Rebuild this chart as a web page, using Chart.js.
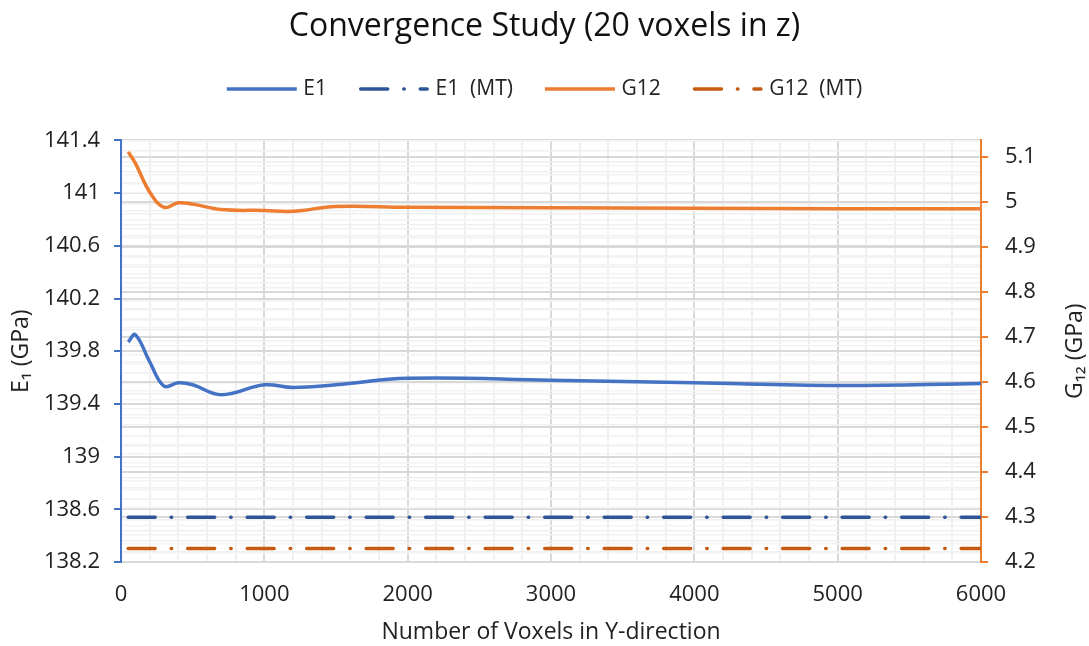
<!DOCTYPE html>
<html>
<head>
<meta charset="utf-8">
<title>Convergence Study (20 voxels in z)</title>
<script src="https://cdn.jsdelivr.net/npm/chart.js@4.4.0/dist/chart.umd.min.js"></script>
<style>
  html, body { margin: 0; padding: 0; background: #fff; }
</style>
</head>
<body>
<canvas id="chart" width="1089" height="646"></canvas>
<script>
// values
const voxels = [50, 100, 200, 300, 400, 500, 700, 1000, 1200, 1500, 2000, 3000, 4000, 5000, 6000];
const e1 = [139.87, 139.925, 139.72, 139.535, 139.56, 139.545, 139.47, 139.545, 139.525, 139.545, 139.595, 139.58, 139.56, 139.54, 139.555];
const g12 = [5.111, 5.086, 5.022, 4.988, 4.998, 4.995, 4.983, 4.981, 4.979, 4.990, 4.988, 4.987, 4.986, 4.985, 4.985];

const mtVoxels = [50, 6000];
const e1MT = [138.54, 138.54];
const g12MT = [4.23, 4.23];

// tick labels
const xTicks = [0, 1000, 2000, 3000, 4000, 5000, 6000];
const leftTicks = [138.2, 138.6, 139, 139.4, 139.8, 140.2, 140.6, 141, 141.4];
const rightTicks = [4.2, 4.3, 4.4, 4.5, 4.6, 4.7, 4.8, 4.9, 5, 5.1];

const FONT = "'Open Sans', 'Noto Sans', sans-serif";
const BLUE = '#4472C4';
const ORANGE = '#ED7D31';
const MT_DASH = [27, 16, 0.5, 16];
const SAMPLE_W = 70;

function isMajor(list, v) {
  return list.some(t => Math.abs(t - v) < 1e-6);
}

function toPoints(xs, ys) {
  return xs.map((x, i) => ({ x: x, y: ys[i] }));
}

// extra room between legend and plot area
const legendGap = {
  id: 'legendGap',
  beforeInit(chart) {
    const fit = chart.legend.fit;
    chart.legend.fit = function () {
      fit.call(chart.legend);
      this.height += 31;
    };
  }
};

// legend line samples (the built-in box can't show the dash-dot pattern)
const legendSamples = {
  id: 'legendSamples',
  afterDraw(chart) {
    const ctx = chart.ctx;
    const boxes = chart.legend.legendHitBoxes || [];
    boxes.forEach((b, i) => {
      const ds = chart.data.datasets[i];
      const y = b.top + b.height / 2;
      const cap = ds.borderDash ? 'round' : 'butt';
      const inset = cap === 'round' ? ds.borderWidth / 2 : 0;
      ctx.save();
      ctx.strokeStyle = ds.borderColor;
      ctx.lineWidth = ds.borderWidth;
      ctx.lineCap = cap;
      ctx.setLineDash(ds.borderDash || []);
      ctx.beginPath();
      ctx.moveTo(b.left + inset, y);
      ctx.lineTo(b.left + SAMPLE_W - inset, y);
      ctx.stroke();
      ctx.restore();
    });
  }
};

// G12 title on the right reads bottom-to-top like the left one
const rightTitle = {
  id: 'rightTitle',
  afterDraw(chart) {
    const s = chart.scales.y2;
    const ctx = chart.ctx;
    ctx.save();
    ctx.translate(s.right - 14, (s.top + s.bottom) / 2);
    ctx.rotate(-Math.PI / 2);
    ctx.font = "23px " + FONT;
    ctx.fillStyle = '#222';
    ctx.textAlign = 'center';
    ctx.textBaseline = 'middle';
    ctx.fillText('G\u2081\u2082 (GPa)', 0, 0);
    ctx.restore();
  }
};

new Chart(document.getElementById('chart'), {
  type: 'line',
  data: {
    datasets: [
      {
        label: 'E1',
        data: toPoints(voxels, e1),
        yAxisID: 'y',
        borderColor: BLUE,
        backgroundColor: BLUE,
        borderWidth: 3.5,
        tension: 0.4,
        pointRadius: 0
      },
      {
        label: 'E1  (MT)',
        data: toPoints(mtVoxels, e1MT),
        yAxisID: 'y',
        borderColor: '#2F5597',
        backgroundColor: '#2F5597',
        borderWidth: 3.5,
        borderDash: MT_DASH,
        borderCapStyle: 'round',
        pointRadius: 0
      },
      {
        label: 'G12',
        data: toPoints(voxels, g12),
        yAxisID: 'y2',
        borderColor: ORANGE,
        backgroundColor: ORANGE,
        borderWidth: 3.5,
        tension: 0.4,
        pointRadius: 0
      },
      {
        label: 'G12  (MT)',
        data: toPoints(mtVoxels, g12MT),
        yAxisID: 'y2',
        borderColor: '#C55A11',
        backgroundColor: '#C55A11',
        borderWidth: 3.5,
        borderDash: MT_DASH,
        borderCapStyle: 'round',
        pointRadius: 0
      }
    ]
  },
  options: {
    responsive: false,
    animation: false,
    events: [],
    plugins: {
      title: {
        display: true,
        text: 'Convergence Study (20 voxels in z)',
        color: '#111',
        font: { family: FONT, size: 32, weight: 'normal' },
        padding: { top: 8, bottom: 0 }
      },
      legend: {
        position: 'top',
        labels: {
          boxWidth: 66,
          boxHeight: 0,
          padding: 32,
          color: '#222',
          font: { family: FONT, size: 21 },
          generateLabels: chart => Chart.defaults.plugins.legend.labels.generateLabels(chart).map(item => Object.assign(item, {
            fillStyle: 'rgba(0,0,0,0)',
            strokeStyle: 'rgba(0,0,0,0)',
            lineWidth: 0
          }))
        }
      },
      tooltip: { enabled: false }
    },
    scales: {
      x: {
        type: 'linear',
        min: 0,
        max: 6000,
        afterFit: s => { s.height = 84; },
        ticks: {
          stepSize: 200,
          autoSkip: false,
          maxRotation: 0,
          padding: 20,
          color: '#222',
          font: { family: FONT, size: 22 },
          callback: v => isMajor(xTicks, v) ? String(v) : ''
        },
        grid: {
          drawTicks: false,
          color: c => isMajor(xTicks, c.tick.value) ? '#d9d9d9' : '#f0f0f0',
          lineWidth: 2
        },
        border: { color: '#d9d9d9', width: 2 },
        title: {
          display: true,
          text: 'Number of Voxels in Y-direction',
          color: '#222',
          font: { family: FONT, size: 23 },
          padding: { top: 0, bottom: 0 }
        }
      },
      y: {
        type: 'linear',
        position: 'left',
        min: 138.2,
        max: 141.4,
        afterFit: s => { s.width = 121; },
        ticks: {
          stepSize: 0.08,
          autoSkip: false,
          padding: 14,
          color: '#222',
          font: { family: FONT, size: 22 },
          callback: v => isMajor(leftTicks, v) ? String(parseFloat(v.toFixed(2))) : ''
        },
        grid: {
          tickLength: 7,
          color: c => isMajor(leftTicks, c.tick.value) ? '#d9d9d9' : '#f0f0f0',
          tickColor: c => isMajor(leftTicks, c.tick.value) ? BLUE : 'rgba(0,0,0,0)',
          lineWidth: c => isMajor(leftTicks, c.tick.value) ? 2 : 1.5,
          tickWidth: 2
        },
        border: { color: BLUE, width: 2 },
        title: {
          display: true,
          text: 'E\u2081 (GPa)',
          color: '#222',
          font: { family: FONT, size: 23 },
          padding: { top: 8, bottom: 0 }
        }
      },
      y2: {
        type: 'linear',
        position: 'right',
        min: 4.2,
        max: 5.1366,
        afterFit: s => { s.width = 108; },
        ticks: {
          stepSize: 0.02,
          autoSkip: false,
          padding: 17,
          color: '#222',
          font: { family: FONT, size: 22 },
          callback: v => isMajor(rightTicks, v) ? String(parseFloat(v.toFixed(2))) : ''
        },
        grid: {
          tickLength: 7,
          color: c => isMajor(rightTicks, c.tick.value) ? '#d9d9d9' : '#f3f3f3',
          tickColor: c => isMajor(rightTicks, c.tick.value) ? ORANGE : 'rgba(0,0,0,0)',
          lineWidth: c => isMajor(rightTicks, c.tick.value) ? 2 : 1.5,
          tickWidth: 2
        },
        border: { color: ORANGE, width: 2 }
      }
    }
  },
  plugins: [legendGap, legendSamples, rightTitle]
});
</script>
</body>
</html>
